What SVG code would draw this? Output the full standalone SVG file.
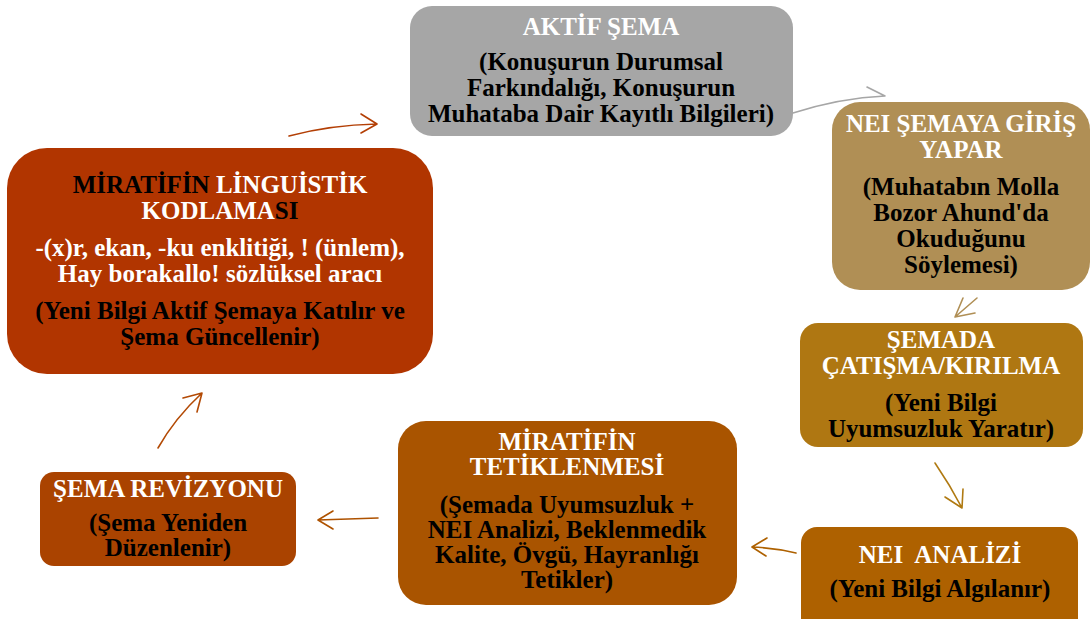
<svg xmlns="http://www.w3.org/2000/svg" width="1091" height="619" viewBox="0 0 1091 619">
  <style>
    text { font-family: "Liberation Serif", "Times New Roman", serif; font-weight: bold; text-anchor: middle; font-size: 25px; }
    .t { fill: #ffffff; }
    .b { fill: #000000; }
    .k { fill: #000000; }
    .c { fill: none; stroke-width: 1.6; stroke-linecap: round; stroke-linejoin: round; }
  </style>
  <rect width="1091" height="619" fill="#ffffff"/>

  <!-- connectors -->
  <g id="connectors">
    <path class="c" stroke="#B33F05" d="M289,136 Q330,125 377,124 M361,114 L377,124 L361,133"/>
    <path class="c" stroke="#A6A6A6" d="M793,113 Q840,98 885,96 M867,87 L885,96"/>
    <path class="c" stroke="#B08F55" d="M977,298 L955,317 M963,298 L955,317 L975,313"/>
    <path class="c" stroke="#B07A12" d="M935,463 Q950,485 962,508 M963,489 L962,508 L945,497"/>
    <path class="c" stroke="#AE6100" d="M796,553 Q775,548 752,547 M767,538 L752,547 L766,556"/>
    <path class="c" stroke="#AE5200" d="M378,518 L318,520 M333,511 L318,520 L333,529"/>
    <path class="c" stroke="#B34A05" d="M158,448 Q175,418 202,393 M183,398 L202,393 L197,412"/>
  </g>

  <!-- active schema -->
  <g id="aktif-sema">
    <rect x="410" y="6" width="383" height="130" rx="22" fill="#A6A6A6"/>
    <text class="t" x="601" y="35">AKTİF ŞEMA</text>
    <text class="b" x="601" y="70">(Konuşurun Durumsal</text>
    <text class="b" x="601" y="96">Farkındalığı, Konuşurun</text>
    <text class="b" x="601" y="122">Muhataba Dair Kayıtlı Bilgileri)</text>
  </g>

  <!-- NEI enters the schema -->
  <g id="nei-giris">
    <rect x="832" y="102" width="258" height="188" rx="28" fill="#B08F55"/>
    <text class="t" x="961" y="132">NEI ŞEMAYA GİRİŞ</text>
    <text class="t" x="961" y="158">YAPAR</text>
    <text class="b" x="961" y="195">(Muhatabın Molla</text>
    <text class="b" x="961" y="221">Bozor Ahund'da</text>
    <text class="b" x="961" y="247">Okuduğunu</text>
    <text class="b" x="961" y="273">Söylemesi)</text>
  </g>

  <!-- conflict in the schema -->
  <g id="catisma">
    <rect x="800" y="323" width="283" height="124" rx="18" fill="#AF7712"/>
    <text class="t" x="941" y="348">ŞEMADA</text>
    <text class="t" x="941" y="374">ÇATIŞMA/KIRILMA</text>
    <text class="b" x="941" y="411">(Yeni Bilgi</text>
    <text class="b" x="941" y="437">Uyumsuzluk Yaratır)</text>
  </g>

  <!-- NEI analysis -->
  <g id="nei-analizi">
    <rect x="801" y="527" width="277" height="110" rx="16" fill="#AE6100"/>
    <text class="t" x="940" y="563" xml:space="preserve">NEI  ANALİZİ</text>
    <text class="b" x="940" y="597">(Yeni Bilgi Algılanır)</text>
  </g>

  <!-- triggering of mirativity -->
  <g id="tetiklenme">
    <rect x="398" y="421" width="339" height="184" rx="28" fill="#A95400"/>
    <text class="t" x="567" y="450">MİRATİFİN</text>
    <text class="t" x="567" y="475">TETİKLENMESİ</text>
    <text class="b" x="567" y="513">(Şemada Uyumsuzluk +</text>
    <text class="b" x="567" y="538">NEI Analizi, Beklenmedik</text>
    <text class="b" x="567" y="563">Kalite, Övgü, Hayranlığı</text>
    <text class="b" x="567" y="588">Tetikler)</text>
  </g>

  <!-- schema revision -->
  <g id="revizyon">
    <rect x="40" y="472" width="256" height="94" rx="14" fill="#AA4300"/>
    <text class="t" x="168" y="497">ŞEMA REVİZYONU</text>
    <text class="b" x="168" y="531">(Şema Yeniden</text>
    <text class="b" x="168" y="556">Düzenlenir)</text>
  </g>

  <!-- linguistic coding of mirativity -->
  <g id="kodlama">
    <rect x="7" y="148" width="426" height="226" rx="40" fill="#B13500"/>
    <text x="220" y="193"><tspan class="k">MİRATİFİN </tspan><tspan class="t">LİNGUİSTİK</tspan></text>
    <text x="220" y="219"><tspan class="t">KODLAMA</tspan><tspan class="k">SI</tspan></text>
    <text class="t" x="220" y="256">-(x)r, ekan, -ku enklitiği, ! (ünlem),</text>
    <text class="t" x="220" y="282">Hay borakallo! sözlüksel aracı</text>
    <text class="b" x="220" y="319">(Yeni Bilgi Aktif Şemaya Katılır ve</text>
    <text class="b" x="220" y="345">Şema Güncellenir)</text>
  </g>
</svg>
